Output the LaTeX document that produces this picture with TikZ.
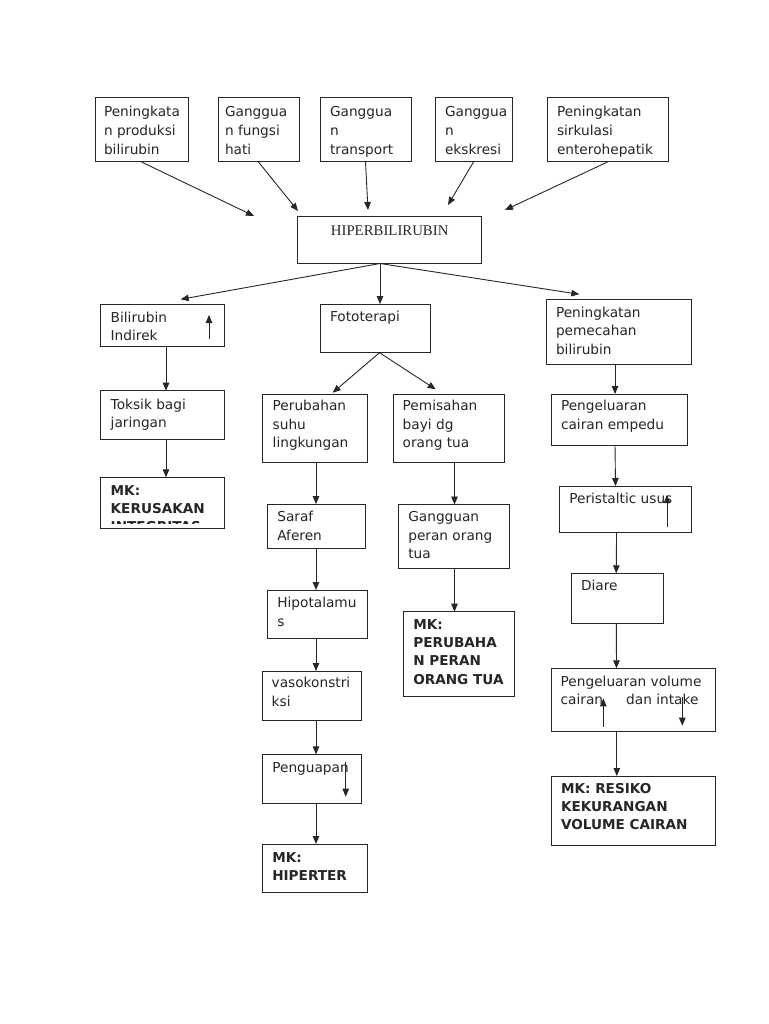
\documentclass[tikz,border=0pt]{standalone}
\usepackage{fontspec}
\setmainfont{DejaVu Sans}
\newfontfamily\serifhb{Liberation Serif}
\usetikzlibrary{arrows.meta}
\newcommand\mkbox[9]{%
  \pgfmathsetmacro\bw{#4-#2}\pgfmathsetmacro\bh{#5-#3}%
  \pgfmathsetmacro\bcx{(#2+#4)/2}\pgfmathsetmacro\bcy{(#3+#5)/2}%
  \node[box, minimum width=\bw pt, minimum height=\bh pt] (#1) at (\bcx,\bcy) {};
  \pgfmathsetmacro\tty{#7-12}%
  \node[txt,#8] (#1-t) at (#6,\tty) {\rule{0pt}{12pt}#9};
}
\begin{document}
\begin{tikzpicture}[x=1pt,y=-1pt,
  box/.style={draw=black!85, line width=1pt, inner sep=0pt, outer sep=0pt},
  txt/.style={anchor=north west, inner sep=0pt, outer sep=0pt, align=left,
              font=\fontsize{13.7}{18.6}\selectfont, text=black!85},
  toprow/.style={font=\fontsize{13.7}{19}\selectfont},
  boldt/.style={font=\fontsize{13.6}{18.3}\selectfont\bfseries},
  arr/.style={draw=black!85, line width=0.9pt, -{Triangle[length=8pt,width=6.5pt]}},
]
\fill[white] (0,0) rectangle (768,1024);
\useasboundingbox (0,0) rectangle (768,1024);

% top row
\mkbox{t1}{95}{98}{188}{162}{104}{117}{toprow}{Peningkata\\n produksi\\bilirubin}
\mkbox{t2}{218}{98}{299}{162}{225}{117}{toprow}{Ganggua\\n fungsi\\hati}
\mkbox{t3}{320}{98}{411}{162}{330}{117}{toprow}{Ganggua\\n\\transport}
\mkbox{t4}{435}{98}{512}{162}{445}{117}{toprow}{Ganggua\\n\\ekskresi}
\mkbox{t5}{547}{98}{668}{162}{557}{117}{toprow}{Peningkatan\\sirkulasi\\enterohepatik}

% central
\node[box, minimum width=184pt, minimum height=47pt] (hiper) at (389.5,240) {};
\node[anchor=base west, inner sep=0pt, text=black!85,
      font=\serifhb\fontsize{14.8}{18}\selectfont] (hiper-t) at (330.7,236) {HIPERBILIRUBIN};

% left column
\mkbox{bil}{100}{304}{224.3}{346}{110.7}{322}{}{Bilirubin\\Indirek}
\mkbox{tok}{100}{390.7}{224.3}{439.3}{110.7}{409}{}{Toksik bagi\\jaringan}
\mkbox{mk1}{100}{477.3}{224.3}{528}{110.7}{495.5}{boldt}{}
\begin{scope}
  \clip (100,477.3) rectangle (224.3,523.5);
  \node[txt,boldt,font=\fontsize{13.6}{18}\selectfont\bfseries] (mk1-c) at (110.7,483.5)
    {\rule{0pt}{12pt}MK:\\KERUSAKAN\\INTEGRITAS};
\end{scope}

% middle
\mkbox{foto}{320.7}{304}{430}{352.7}{330}{321.7}{}{Fototerapi}
\mkbox{peru}{262.3}{394}{367.3}{462}{272.7}{410.7}{}{Perubahan\\suhu\\lingkungan}
\mkbox{pemi}{393.3}{394}{504.3}{462}{402.7}{410.7}{}{Pemisahan\\bayi dg\\orang tua}
\mkbox{saraf}{267.3}{504}{365}{548.3}{277.3}{521.7}{}{Saraf\\Aferen}
\mkbox{gang}{398.7}{504.5}{509.3}{568.3}{408.3}{521.7}{}{Gangguan\\peran orang\\tua}
\mkbox{hipo}{267.3}{590}{367.3}{638.3}{277.3}{607.7}{}{Hipotalamu\\s}
\mkbox{mkp}{403.3}{611.7}{514.3}{696}{413.3}{629.3}{boldt}{MK:\\PERUBAHA\\N PERAN\\ORANG TUA}
\mkbox{vaso}{262.3}{671}{361.7}{720}{271.7}{687.7}{}{vasokonstri\\ksi}
\mkbox{peng}{262.3}{754.3}{361.7}{803.3}{272.3}{772.3}{}{Penguapan}
\mkbox{mkh}{262.3}{844}{367.3}{892.3}{272.3}{862}{boldt}{MK:\\HIPERTER}

% right
\mkbox{pem}{546.3}{299.3}{691.7}{364}{556}{317.3}{}{Peningkatan\\pemecahan\\bilirubin}
\mkbox{cair}{551}{394}{687.7}{445}{561}{410.7}{}{Pengeluaran\\cairan empedu}
\mkbox{peri}{559.3}{486}{691.7}{532.7}{569.3}{503.3}{}{Peristaltic usus}
\mkbox{diare}{571.7}{573.3}{663.3}{623.3}{581}{590}{}{Diare}
\mkbox{vol}{551}{668.3}{715}{731.7}{560.7}{686}{}{Pengeluaran volume\\cairan\hspace{23pt}dan intake}
\mkbox{mkr}{551}{776}{715}{845.7}{561}{793.3}{boldt}{MK: RESIKO\\KEKURANGAN\\VOLUME CAIRAN}

% connector end points
\coordinate (a1) at (254,216);
\coordinate (a2) at (298,211);
\coordinate (a3) at (368,210);
\coordinate (a4) at (448,205);
\coordinate (a5) at (505,210);
\coordinate (hs) at (380,263.5);
\coordinate (b1) at (180.7,299.3);
\coordinate (b3) at (579.3,294.3);
\coordinate (fs) at (379.5,352.7);
\coordinate (c1) at (332.7,392.7);
\coordinate (c2) at (435.7,389.3);

\draw[arr] (t1.south) -- (a1);
\draw[arr] (t2.south) -- (a2);
\draw[arr] (t3.south) -- (a3);
\draw[arr] (t4.south) -- (a4);
\draw[arr] (t5.south) -- (a5);

\draw[arr] (hs) -- (b1);
\draw[arr] (hs) -- (hs |- foto.north);
\draw[arr] (hs) -- (b3);

\draw[arr] (fs) -- (c1);
\draw[arr] (fs) -- (c2);

\draw[arr] (166,0 |- bil.south) -- (166,0 |- tok.north);
\draw[arr] (166,0 |- tok.south) -- (166,0 |- mk1.north);

\draw[arr] (316,0 |- peru.south) -- (316,0 |- saraf.north);
\draw[arr] (316,0 |- saraf.south) -- (316,0 |- hipo.north);
\draw[arr] (316,0 |- hipo.south) -- (316,0 |- vaso.north);
\draw[arr] (316,0 |- vaso.south) -- (316,0 |- peng.north);
\draw[arr] (316,0 |- peng.south) -- (316,0 |- mkh.north);

\draw[arr] (454.5,0 |- pemi.south) -- (454.5,0 |- gang.north);
\draw[arr] (454.5,0 |- gang.south) -- (454.5,0 |- mkp.north);

\draw[arr] (615,0 |- pem.south) -- (615,0 |- cair.north);
\draw[arr] (615,0 |- cair.south) -- (615.5,0 |- peri.north);
\draw[arr] (616.5,0 |- peri.south) -- (616.3,0 |- diare.north);
\draw[arr] (616.3,0 |- diare.south) -- (616.5,0 |- vol.north);
\draw[arr] (616.8,0 |- vol.south) -- (616.8,0 |- mkr.north);

% small arrows inside boxes
\coordinate (u1s) at (209,339);   \coordinate (u1e) at (209,315);
\coordinate (u2s) at (345.7,761.7); \coordinate (u2e) at (345.7,796.7);
\coordinate (u3s) at (667,527.3); \coordinate (u3e) at (667,495);
\coordinate (u4s) at (603.3,726.7); \coordinate (u4e) at (603.3,698.3);
\coordinate (u5s) at (682.3,696.7); \coordinate (u5e) at (682.3,725.7);
\draw[arr] (u1s) -- (u1e);
\draw[arr] (u2s) -- (u2e);
\draw[arr] (u3s) -- (u3e);
\draw[arr] (u4s) -- (u4e);
\draw[arr] (u5s) -- (u5e);
\end{tikzpicture}
\end{document}
